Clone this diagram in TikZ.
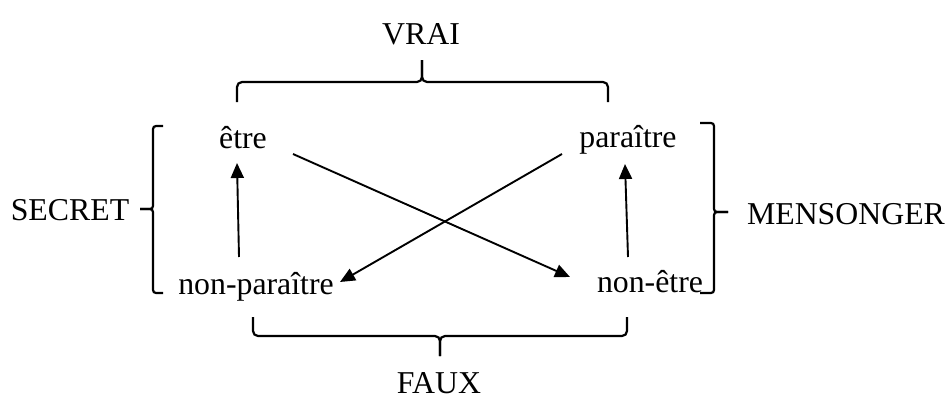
\documentclass[tikz,border=0pt]{standalone}
\usepackage{fontspec}
\setmainfont{Liberation Serif}
\usetikzlibrary{arrows.meta}
\begin{document}
\begin{tikzpicture}[x=1pt,y=-1pt,
  lbl/.style={anchor=base,inner sep=0pt,font=\fontsize{31.8}{36}\selectfont},
  brace/.style={line width=2.2pt,rounded corners=5pt},
  sqbr/.style={line width=2.2pt,rounded corners=3pt},
  arr/.style={line width=1.9pt,-{Triangle[length=15pt,width=13pt]}}]
\useasboundingbox[fill=white] (0,0) rectangle (947,407);
% labels
\node[lbl] (vrai) at (421,44) {VRAI};
\node[lbl] (faux) at (439,393) {FAUX};
\node[lbl] (secret) at (70,220) {SECRET};
\node[lbl] (mens) at (846,224) {MENSONGER};
\node[lbl] (etre) at (243,148) {être};
\node[lbl] (par) at (628,147) {paraître};
\node[lbl] (npar) at (256,294) {non-paraître};
\node[lbl] (netre) at (650,292) {non-être};
% braces
\draw[brace] (237,102) -- (237,82) -- (422,82) -- (422,60);
\draw[brace] (608,102) -- (608,82) -- (422,82) -- (422,60);
\draw[brace] (253,317) -- (253,336) -- (440,336) -- (440,356);
\draw[brace] (627,317) -- (627,336) -- (440,336) -- (440,356);
\draw[sqbr] (163,126) -- (153,126) -- (153,209) -- (140,209);
\draw[sqbr] (163,293) -- (153,293) -- (153,209) -- (140,209);
\draw[sqbr] (700,123) -- (714,123) -- (714,212) -- (728,212);
\draw[sqbr] (700,293) -- (714,293) -- (714,212) -- (728,212);
% arrow endpoints
\coordinate (a1s) at (239,257);
\coordinate (a1e) at (237,163);
\coordinate (a2s) at (628,257);
\coordinate (a2e) at (625,164);
\coordinate (a3s) at (293,154);
\coordinate (a3e) at (570,277);
\coordinate (a4s) at (562,154);
\coordinate (a4e) at (340,282);
\draw[arr] (a1s) -- (a1e);
\draw[arr] (a2s) -- (a2e);
\draw[arr] (a3s) -- (a3e);
\draw[arr] (a4s) -- (a4e);
\end{tikzpicture}
\end{document}
